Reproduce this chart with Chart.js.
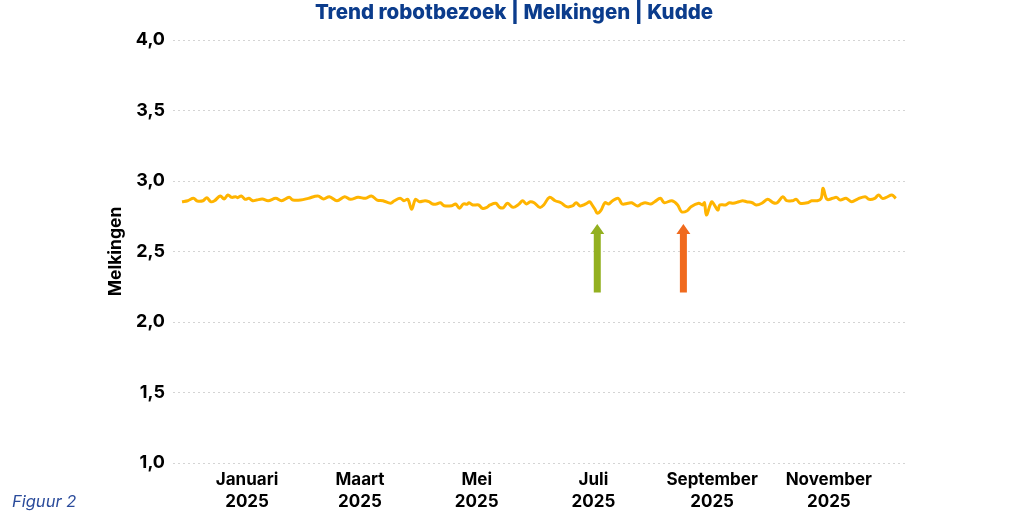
<!DOCTYPE html>
<html>
<head>
<meta charset="utf-8">
<script src="https://cdn.jsdelivr.net/npm/chart.js@4.4.1/dist/chart.umd.min.js"></script>
<style>
  html, body { margin: 0; padding: 0; background: #ffffff; }
  #wrap { position: relative; width: 1024px; height: 512px; }
  #titel { position: absolute; left: 0; width: 1028px; top: -1px; text-align: center;
    font-family: Inter, "Open Sans", sans-serif; font-weight: 800; font-size: 20.5px; color: #0b3c8c; }
  #figuur { position: absolute; left: 12px; top: 491px; font-family: Inter, "Open Sans", sans-serif;
    font-style: italic; font-size: 16.5px; color: #2a4b9b; }
</style>
</head>
<body>
<div id="wrap">
  <canvas id="c" width="1024" height="512"></canvas>
  <div id="titel">Trend robotbezoek | Melkingen | Kudde</div>
  <div id="figuur">Figuur 2</div>
</div>
<script>
// Dag-index (0 = 1 januari 2025) en gemiddeld aantal melkingen per koe
const dagen = [-34,-31,-28,-26,-23,-21,-19,-17,-14,-12,-10,-8,-6,-5,-3,-1,1,3,5,8,11,15,18,22,24,28,32,37,40,43,47,51,54,58,62,65,68,71,75,77,80,82,84,86,88,90,93,95,97,99,101,103,107,109,111,113,115,116,118,121,123,125,127,130,132,134,136,139,142,144,146,148,150,153,155,158,161,164,167,170,172,174,177,179,180,182,183,185,187,189,191,194,196,199,201,204,206,208,211,213,216,218,222,225,227,230,232,236,238,239,240,242,243,246,247,250,252,254,257,259,261,264,266,269,272,275,277,280,282,285,287,289,293,295,298,300,301,303,306,308,310,313,316,319,323,325,328,330,332,334,337,339];
const melkingen = [2.853,2.860,2.877,2.858,2.860,2.882,2.853,2.860,2.894,2.872,2.901,2.884,2.889,2.882,2.894,2.870,2.877,2.860,2.865,2.872,2.860,2.877,2.860,2.884,2.865,2.865,2.877,2.894,2.872,2.889,2.860,2.889,2.870,2.884,2.877,2.894,2.865,2.860,2.842,2.860,2.877,2.860,2.870,2.799,2.870,2.853,2.860,2.853,2.837,2.837,2.846,2.825,2.825,2.837,2.806,2.837,2.835,2.846,2.830,2.830,2.806,2.811,2.830,2.842,2.813,2.811,2.842,2.813,2.835,2.860,2.837,2.853,2.846,2.813,2.830,2.884,2.860,2.846,2.818,2.823,2.846,2.823,2.837,2.853,2.837,2.794,2.771,2.794,2.846,2.837,2.860,2.877,2.837,2.842,2.846,2.823,2.837,2.846,2.837,2.853,2.877,2.846,2.860,2.830,2.782,2.789,2.818,2.842,2.830,2.846,2.759,2.830,2.853,2.794,2.830,2.830,2.846,2.842,2.853,2.860,2.853,2.846,2.830,2.842,2.870,2.846,2.846,2.889,2.860,2.860,2.870,2.842,2.846,2.860,2.860,2.877,2.948,2.870,2.877,2.884,2.865,2.877,2.853,2.872,2.889,2.870,2.877,2.901,2.877,2.884,2.901,2.877];

// X-as labels (dag-index van de 1e van de maand)
const maandDagen = [0, 59, 120, 181, 243, 304];
const maandLabels = [["Januari","2025"],["Maart","2025"],["Mei","2025"],["Juli","2025"],["September","2025"],["November","2025"]];

// Y-as
const yMin = 1.0, yMax = 4.0, yStap = 0.5;

// Pijlen (dag-index, kleur) en hun verticale bereik
const pijlDagen = [183, 228];
const pijlKleuren = ["#93b020", "#f06a1e"];
const pijlVan = 2.21, pijlTot = 2.695;

const punten = dagen.map((d, i) => ({ x: d, y: melkingen[i] }));

const pijlPlugin = {
  id: 'pijlen',
  afterDatasetsDraw(chart) {
    const { ctx, scales: { x, y } } = chart;
    pijlDagen.forEach((d, i) => {
      const px = x.getPixelForValue(d);
      const yb = y.getPixelForValue(pijlVan);
      const yt = y.getPixelForValue(pijlTot);
      const shaft = 3.5, head = 7, headH = 10;
      ctx.save();
      ctx.fillStyle = pijlKleuren[i];
      ctx.beginPath();
      ctx.moveTo(px - shaft, yb);
      ctx.lineTo(px - shaft, yt + headH);
      ctx.lineTo(px - head, yt + headH);
      ctx.lineTo(px, yt);
      ctx.lineTo(px + head, yt + headH);
      ctx.lineTo(px + shaft, yt + headH);
      ctx.lineTo(px + shaft, yb);
      ctx.closePath();
      ctx.fill();
      ctx.restore();
    });
  }
};

const FONT = 'Inter, "Open Sans", sans-serif';

new Chart(document.getElementById('c'), {
  type: 'line',
  data: {
    datasets: [{
      data: punten,
      borderColor: '#FFB400',
      borderWidth: 3,
      pointRadius: 0,
      tension: 0.35,
      fill: false
    }]
  },
  options: {
    responsive: false,
    animation: false,
    layout: { padding: { left: 105, right: 119, top: 40, bottom: 0 } },
    plugins: {
      legend: { display: false },
      tooltip: { enabled: false },
      title: { display: false }
    },
    scales: {
      x: {
        type: 'linear',
        min: -38.7,
        max: 343.8,
        grid: { display: false },
        border: { display: false },
        afterFit(scale) { scale.height = 49; },
        afterBuildTicks(scale) {
          scale.ticks = maandDagen.map(v => ({ value: v }));
        },
        ticks: {
          autoSkip: false,
          maxRotation: 0,
          padding: -2,
          color: '#000000',
          font: { family: FONT, size: 17, weight: '700', lineHeight: 1.3 },
          callback(value) {
            const i = maandDagen.indexOf(value);
            return i >= 0 ? maandLabels[i] : '';
          }
        }
      },
      y: {
        min: yMin,
        max: yMax,
        afterFit(scale) { scale.width = 68; },
        border: { display: false, dash: [2, 3] },
        grid: { color: '#d4d4d4', lineWidth: 1, drawTicks: false },
        title: {
          display: true,
          text: 'Melkingen',
          color: '#000000',
          font: { family: FONT, size: 17.5, weight: '700' },
          padding: { top: 0, bottom: 4 }
        },
        ticks: {
          stepSize: yStap,
          padding: 8,
          color: '#000000',
          font: { family: FONT, size: 18, weight: '700' },
          callback: v => v.toFixed(1).replace('.', ',')
        }
      }
    }
  },
  plugins: [pijlPlugin]
});
</script>
</body>
</html>
